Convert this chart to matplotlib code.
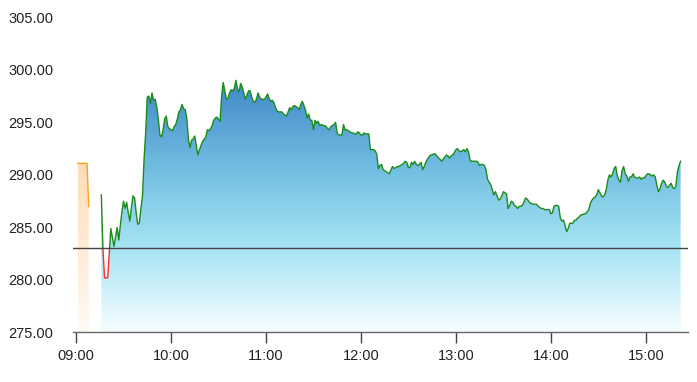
import matplotlib
matplotlib.use("Agg")
import matplotlib.pyplot as plt
import numpy as np
from matplotlib.colors import LinearSegmentedColormap
from matplotlib.patches import Rectangle

plt.rcParams["font.family"] = ["Liberation Sans", "DejaVu Sans"]

# minute-by-minute prices
PRE_START = "09:01"
pre_prices = [291.1, 291.1, 291.1, 291.1, 291.1, 291.1, 291.1, 287.0]

MAIN_START = "09:16"
main_prices = [
    288.1, 283.0, 280.2, 280.2, 280.2, 282.5, 284.9, 284.0, 283.2, 284.1,
    285.0, 283.8, 285.2, 286.5, 287.5, 286.8, 287.4, 286.4, 285.6, 286.9,
    288.0, 287.8, 286.4, 285.3, 285.4, 286.8, 288.0, 291.5, 294.0, 297.4,
    297.5, 296.8, 297.8, 297.1, 297.2, 296.5, 295.3, 293.8, 293.6, 294.3,
    295.3, 295.6, 294.6, 294.4, 294.3, 294.2, 294.6, 294.8, 295.3, 296.0,
    296.2, 296.7, 296.3, 296.2, 295.4, 293.4, 292.6, 293.3, 293.4, 293.7,
    292.8, 291.9, 292.4, 292.8, 293.2, 293.4, 293.6, 294.3, 294.2, 294.4,
    294.7, 295.2, 295.4, 295.5, 295.3, 295.1, 297.5, 298.8, 298.0, 297.2,
    297.3, 297.8, 298.1, 298.0, 298.2, 299.0, 298.2, 297.9, 298.7, 298.4,
    297.8, 297.2, 297.6, 298.0, 298.0, 297.4, 297.0, 296.9, 297.2, 297.8,
    297.4, 297.2, 297.2, 297.2, 297.4, 297.7, 297.3, 297.0, 297.1, 296.9,
    296.4, 296.1, 296.0, 296.0, 296.0, 295.8, 295.7, 295.6, 296.0, 296.4,
    296.2, 296.5, 296.6, 296.5, 296.4, 296.2, 296.7, 297.0, 296.6, 296.2,
    295.4, 295.8, 295.2, 295.2, 294.3, 295.2, 294.9, 295.1, 294.7, 294.8,
    294.7, 294.7, 294.6, 294.4, 294.3, 294.6, 294.7, 294.8, 295.0, 294.0,
    293.8, 293.8, 293.8, 294.8, 294.3, 294.3, 294.2, 294.1, 294.0, 294.0,
    293.9, 293.9, 294.1, 294.0, 293.8, 293.8, 294.0, 293.9, 293.9, 293.9,
    292.4, 292.4, 292.4, 292.3, 292.0, 290.6, 290.9, 291.0, 290.5, 290.4,
    290.3, 290.2, 290.1, 290.5, 290.8, 290.6, 290.7, 290.8, 290.8, 290.9,
    291.0, 291.1, 291.3, 291.2, 290.7, 290.7, 291.2, 291.0, 291.3, 291.0,
    290.9, 291.0, 291.2, 290.5, 290.8, 291.2, 291.5, 291.7, 291.9, 291.9,
    292.0, 292.0, 291.8, 291.6, 291.5, 291.3, 291.5, 291.7, 291.9, 291.8,
    291.6, 291.8, 291.9, 292.1, 292.4, 292.5, 292.3, 292.2, 292.3, 292.4,
    292.2, 292.5, 292.2, 291.4, 291.3, 291.3, 291.3, 291.3, 291.2, 290.9,
    291.0, 291.0, 290.9, 290.5, 289.6, 289.3, 289.1, 288.6, 288.1, 288.4,
    288.0, 287.6, 287.7, 288.0, 288.4, 288.3, 288.2, 286.8, 287.1, 287.5,
    287.4, 287.1, 287.0, 286.8, 287.0, 287.0, 287.1, 287.4, 287.8, 287.7,
    287.5, 287.3, 287.3, 287.2, 287.2, 287.2, 287.0, 286.9, 286.8, 286.8,
    286.7, 286.7, 286.7, 286.7, 286.3, 286.4, 287.0, 287.1, 287.1, 287.0,
    285.9, 285.6, 285.7, 285.2, 284.6, 284.9, 285.4, 285.4, 285.4, 285.7,
    285.7, 285.9, 286.0, 286.2, 286.2, 286.3, 286.3, 286.5, 286.7, 287.3,
    287.6, 287.8, 287.9, 288.1, 288.6, 288.3, 288.0, 287.9, 288.1, 288.6,
    289.5, 290.0, 289.8, 290.1, 290.6, 290.8, 289.9, 289.5, 289.3, 290.4,
    290.8, 290.1, 289.9, 289.4, 289.8, 289.8, 290.1, 289.8, 289.7, 289.7,
    289.8, 289.6, 289.7, 289.7, 289.9, 290.1, 290.1, 290.0, 289.9, 290.0,
    289.8, 289.0, 288.4, 288.7, 289.2, 289.5, 289.3, 288.9, 288.8, 289.0,
    289.2, 288.8, 288.7, 288.9, 290.3, 290.9, 291.3,
]

BASE_PRICE = 283.0
Y_MIN, Y_MAX = 275.0, 305.0
y_ticks = [275, 280, 285, 290, 295, 300, 305]
x_tick_labels = ["09:00", "10:00", "11:00", "12:00", "13:00", "14:00", "15:00"]


def to_minutes(hhmm: str) -> int:
    h, m = hhmm.split(":")
    return (int(h) - 9) * 60 + int(m)


def gradient_fill(ax, x, y, colors, top):
    poly = ax.fill_between(x, y, Y_MIN, facecolor="none", edgecolor="none")
    cmap = LinearSegmentedColormap.from_list("grad", colors)
    grad = np.linspace(0, 1, 256).reshape(-1, 1)
    im = ax.imshow(grad, cmap=cmap, aspect="auto", origin="lower",
                   extent=[x.min(), x.max(), Y_MIN, top], zorder=1,
                   interpolation="bilinear")
    im.set_clip_path(poly.get_paths()[0], transform=ax.transData)


pre_x = to_minutes(PRE_START) + np.arange(len(pre_prices))
pre_y = np.array(pre_prices)
main_x = to_minutes(MAIN_START) + np.arange(len(main_prices))
main_y = np.array(main_prices)

fig = plt.figure(figsize=(6.97, 3.82), dpi=100)
ax = fig.add_axes([0.1043, 0.1296, 0.8824, 0.8251])

gradient_fill(ax, pre_x, pre_y, ["#fffaf4", "#ffdcb6"], pre_y.max())
top = main_y.max()
pos_base = (BASE_PRICE - Y_MIN) / (top - Y_MIN)
gradient_fill(ax, main_x, main_y,
              [(0.0, "#f6fdff"), (pos_base, "#a6e4f4"), (0.62, "#76c2e3"), (1.0, "#3f88c8")],
              top)

ax.plot(pre_x, pre_y, color="#ffa31a", lw=1.0, zorder=3)

# green above the base price, red below it
above = Rectangle((-100, BASE_PRICE), 1000, 100, transform=ax.transData)
below = Rectangle((-100, Y_MIN - 100), 1000, BASE_PRICE - Y_MIN + 100, transform=ax.transData)
line_up, = ax.plot(main_x, main_y, color="#1a8c1a", lw=1.0, zorder=3)
line_up.set_clip_path(above)
line_dn, = ax.plot(main_x, main_y, color="#ff2a2a", lw=1.0, zorder=3)
line_dn.set_clip_path(below)

ax.axhline(BASE_PRICE, color="#444444", lw=1.0, zorder=4)

ax.set_xlim(-2.1, 386.5)
ax.set_ylim(Y_MIN, Y_MAX)
ax.set_xticks(np.arange(len(x_tick_labels)) * 60)
ax.set_xticklabels(x_tick_labels)
ax.set_yticks(y_ticks)
ax.set_yticklabels([f"{v:.2f}" for v in y_ticks])

for side in ("top", "right", "left"):
    ax.spines[side].set_visible(False)
ax.spines["bottom"].set_color("#666666")
ax.spines["bottom"].set_linewidth(1.0)
ax.tick_params(axis="x", length=8, width=1.0, color="#444444", pad=4,
               labelsize=10.5, labelcolor="#222222")
ax.tick_params(axis="y", length=0, pad=14, labelsize=10.5, labelcolor="#222222")

fig.savefig("out.png", dpi=100)
